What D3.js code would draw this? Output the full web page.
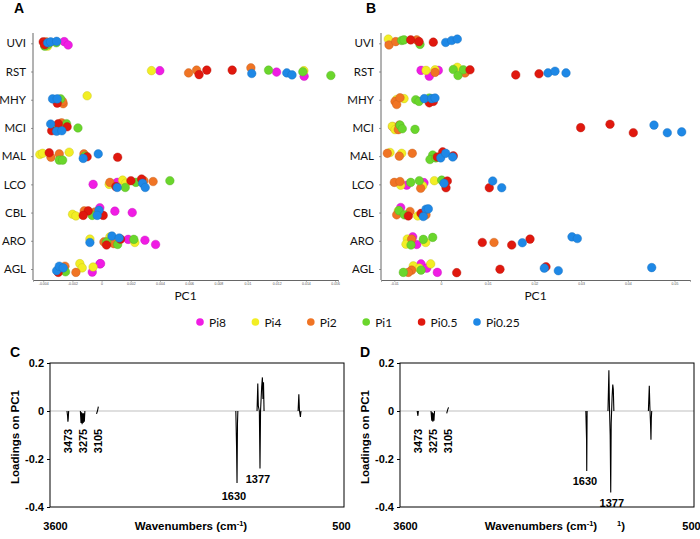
<!DOCTYPE html>
<html><head><meta charset="utf-8">
<script src="https://cdn.jsdelivr.net/npm/d3@7"></script>
<style>body{margin:0;background:#fff} svg{display:block}</style>
</head><body><svg id="c" width="700" height="539"></svg>
<script>
const categories = ["UVI","RST","MHY","MCI","MAL","LCO","CBL","ARO","AGL"];
const seriesNames = ["Pi8","Pi4","Pi2","Pi1","Pi0.5","Pi0.25"];
const seriesColors = ["#f01ce4","#f2ee24","#f07424","#6ad62c","#e0180e","#1e88e6"];
const ticksA = [-0.004,-0.002,0,0.002,0.004,0.006,0.008,0.01,0.012,0.014,0.016];
const ticksB = [-0.01,0,0.01,0.02,0.03,0.04,0.05];
const loadTicks = [0.2,0,-0.2,-0.4];
const waveTicks = [3600,500];

// Panel A: [category, PC1, vertical jitter]
const aPi8 = [["UVI",-0.00256,-0.06],["UVI",-0.00229,0.06],["RST",0.00399,-0.03],["RST",0.01199,0.02],["RST",0.01388,0.17],
  ["LCO",-0.00058,0],["LCO",0.00107,-0.07],["CBL",-0.00012,-0.17],["CBL",0.00091,-0.05],["CBL",0.0021,0],
  ["ARO",0.00182,-0.05],["ARO",0.00297,-0.02],["ARO",0.0037,0.13],["AGL",-0.00064,0.11],["AGL",-0.00012,-0.18],["AGL",-0.00007,-0.19]];
const aPi4 = [["UVI",-0.0037,0.1],["UVI",-0.0039,0.05],["RST",0.00342,-0.03],["RST",0.01386,-0.03],["MHY",-0.00099,-0.14],
  ["MAL",-0.00423,-0.06],["MAL",-0.00404,-0.1],["MAL",-0.00222,-0.14],["LCO",0.00052,0],["LCO",0.00144,-0.15],["LCO",0.00166,-0.04],
  ["CBL",-0.00199,0.06],["CBL",-0.00176,0.12],["ARO",-0.0008,-0.06],["ARO",0.00057,-0.14],["ARO",0.00228,0.06],
  ["AGL",-0.00149,-0.19],["AGL",-0.00133,-0.04],["AGL",-0.00058,-0.07]];
const aPi2 = [["UVI",-0.0038,-0.05],["UVI",-0.0036,0],["RST",0.00596,0.05],["RST",0.00651,-0.05],["RST",0.01023,-0.13],
  ["MHY",-0.00263,0.14],["MHY",-0.00267,0.06],["MCI",-0.00274,-0.18],["MAL",-0.00347,0.04],["MAL",-0.0029,-0.08],["MAL",-0.00121,-0.08],
  ["LCO",0.00057,-0.07],["LCO",0.0029,-0.13],["LCO",0.00353,-0.1],["CBL",-0.00119,-0.06],["CBL",-0.00046,-0.02],
  ["ARO",0.00016,0.04],["ARO",0.00084,0.1],["AGL",-0.00251,-0.1],["AGL",-0.00176,0.12]];
const aPi1 = [["UVI",-0.0039,0.1],["UVI",-0.0031,-0.02],["UVI",-0.0037,0.05],["RST",0.01144,-0.05],["RST",0.01379,0.01],["RST",0.01571,0.14],
  ["MHY",-0.00281,-0.03],["MCI",-0.0024,-0.15],["MCI",-0.00162,0],["MCI",-0.0033,-0.06],["MAL",-0.0029,0.14],["MAL",-0.00267,0.14],["MAL",-0.00114,0],
  ["LCO",0.00162,0.11],["LCO",0.00235,-0.07],["LCO",0.00468,-0.13],["CBL",-0.00064,0.1],
  ["ARO",0.00034,0.04],["ARO",0.0011,0.13],["ARO",0.00221,-0.05],["AGL",-0.00247,0.1]];
const aPi05 = [["UVI",-0.004,-0.05],["UVI",-0.0039,0.05],["RST",0.00668,0.11],["RST",0.00721,-0.05],["RST",0.00895,-0.05],
  ["MHY",-0.00304,0.12],["MCI",-0.00297,-0.15],["MCI",-0.00236,-0.04],["MCI",-0.00342,0.1],
  ["MAL",-0.00359,-0.12],["MAL",-0.00099,0.02],["MAL",0.0011,0.04],["LCO",0.00098,0.08],["LCO",0.00201,-0.13],["LCO",0.00274,-0.19],
  ["CBL",-0.00092,-0.06],["CBL",-0.00126,0.1],["CBL",0.00011,0.1],["ARO",0.00034,0.15],["ARO",0.0013,-0.06],["AGL",-0.00297,0.12]];
const aPi025 = [["UVI",-0.0037,-0.02],["UVI",-0.00349,-0.05],["UVI",-0.00308,-0.07],["RST",0.01029,0.07],["RST",0.01269,0.05],["RST",0.01305,0.12],
  ["MHY",-0.00336,-0.03],["MHY",-0.00304,-0.03],["MCI",-0.00349,-0.14],["MCI",-0.00308,0.12],["MCI",-0.00272,0.1],
  ["MAL",-0.00126,0.08],["MAL",-0.00023,-0.08],["LCO",0.00107,0.11],["LCO",0.00281,-0.04],["LCO",0.00299,0.11],
  ["CBL",-0.00018,-0.08],["CBL",-0.0003,0.1],["ARO",-0.0008,0.06],["ARO",0.00071,-0.17],["ARO",0.00121,-0.1],
  ["AGL",-0.00308,0.06],["AGL",-0.0029,-0.1],["AGL",-0.00263,-0.04]];

// Panel B
const bPi8 = [["UVI",-0.01107,-0.03],["RST",-0.00428,-0.04],["RST",-0.00251,0.17],["RST",-0.00058,-0.04],["MCI",-0.01034,-0.04],
  ["LCO",-0.00734,0.03],["LCO",-0.00364,-0.06],["CBL",-0.00863,-0.18],["ARO",-0.00606,-0.14],["ARO",-0.0052,0.13],
  ["AGL",-0.00428,-0.18],["AGL",-0.00306,-0.03],["AGL",-0.00079,0.12]];
const bPi4 = [["UVI",-0.01128,-0.15],["RST",-0.00321,-0.04],["RST",-0.00128,-0.06],["RST",0.00349,-0.15],["MHY",-0.00792,-0.04],["MHY",-0.00949,-0.01],
  ["MCI",-0.01043,-0.06],["MCI",-0.00985,0.06],["MAL",-0.01092,-0.13],["MAL",-0.00842,-0.1],
  ["LCO",-0.00863,0.03],["LCO",-0.00392,0.05],["LCO",-0.00143,-0.13],["CBL",-0.00914,-0.06],["CBL",-0.00499,0.12],
  ["ARO",-0.00722,-0.06],["ARO",-0.0075,0.12],["ARO",-0.00328,0.06],["AGL",-0.00593,-0.11],["AGL",-0.00221,-0.18],["AGL",-0.00465,-0.03]];
const bPi2 = [["UVI",-0.01113,0.06],["UVI",-0.0097,-0.06],["UVI",-0.0052,-0.12],["RST",-0.00128,0.03],["RST",0.00514,0.05],
  ["MHY",-0.00985,0.06],["MHY",-0.00949,0.17],["MHY",-0.00878,-0.07],["MCI",-0.00893,-0.1],["MCI",-0.00914,0.06],
  ["MAL",-0.0115,-0.1],["MAL",-0.00893,0],["MAL",-0.00615,-0.1],["LCO",-0.01,-0.07],["LCO",-0.00878,-0.1],["LCO",-0.00435,0.14],
  ["CBL",-0.00949,0.08],["CBL",-0.00664,-0.04],["CBL",-0.00321,0.08],["ARO",-0.00628,-0.06],["ARO",0.01135,0.06],
  ["AGL",-0.00628,0.04],["AGL",-0.007,0.12]];
const bPi1 = [["UVI",-0.00842,-0.1],["UVI",-0.00792,-0.12],["UVI",-0.0045,0.04],["RST",0.00263,-0.07],["RST",0.00364,0.14],["RST",0.00478,-0.06],
  ["MHY",-0.00542,0],["MHY",-0.00471,0.06],["MHY",-0.00251,-0.06],["MCI",-0.00878,-0.1],["MCI",-0.00829,0.03],["MCI",-0.00557,0.05],
  ["MAL",-0.00178,-0.04],["MAL",-0.00236,0.12],["MAL",-0.00113,0.06],["LCO",-0.00649,-0.07],["LCO",-0.00465,-0.13],["LCO",0.00015,-0.15],
  ["CBL",-0.00899,-0.07],["CBL",-0.00786,0.08],["ARO",-0.00642,0.15],["ARO",-0.00379,-0.05],["ARO",-0.00178,-0.12],
  ["AGL",-0.00807,0.12],["AGL",-0.00428,0.04]];
const bPi05 = [["UVI",-0.00649,-0.12],["UVI",-0.00471,-0.06],["UVI",-0.00165,-0.04],["RST",0.00621,-0.06],["RST",0.016,0.12],["RST",0.02099,0.08],
  ["MHY",-0.00251,0.11],["MHY",-0.00165,0.06],["MCI",0.02991,-0.01],["MCI",0.03619,-0.13],["MCI",0.04118,0.17],
  ["MAL",-0.00079,0.03],["MAL",0.00036,-0.15],["MAL",0.00263,-0.01],["LCO",0.00135,-0.12],["LCO",0.00107,0.12],["LCO",0.01034,0.12],
  ["CBL",-0.007,0.12],["CBL",-0.00428,0.03],["ARO",0.00884,0.06],["ARO",0.01514,0.15],["ARO",0.01906,-0.06],
  ["AGL",0.00336,0.13],["AGL",0.01263,0.01],["AGL",0.02248,-0.08]];
const bPi025 = [["UVI",0.001,-0.03],["UVI",0.00229,-0.1],["UVI",0.00349,-0.15],["RST",0.02291,0.05],["RST",0.02441,-0.01],["RST",0.02677,0.05],
  ["MHY",-0.00358,-0.04],["MHY",-0.00199,-0.04],["MHY",-0.00128,-0.06],["MCI",0.04561,-0.1],["MCI",0.04846,0.17],["MCI",0.05154,0.14],
  ["MAL",-0.00006,0.06],["MAL",0.00101,-0.1],["MAL",0.00251,0.03],["LCO",0.00064,-0.04],["LCO",0.01107,-0.12],["LCO",0.013,0.12],
  ["CBL",-0.00321,-0.12],["CBL",-0.00272,-0.13],["CBL",-0.00379,0.14],["ARO",0.01741,0.07],["ARO",0.02805,-0.14],["ARO",0.02919,-0.08],
  ["AGL",0.02212,-0.03],["AGL",0.02512,0.06],["AGL",0.04512,-0.05]];

// Loadings on PC1 spectra: [wavenumber, loading] (null = gap)
const cSpectrum = [[3470,0],[3464,-0.02],[3460,-0.045],[3456,-0.03],[3452,0],[3451,null],
  [3325,0],[3318,-0.05],[3312,-0.005],[3306,-0.055],[3300,-0.01],[3294,-0.05],[3288,-0.01],[3282,-0.045],[3276,0],[3275,null],
  [3150,-0.012],[3140,0.0],[3130,0.018],[3129,null],
  [1640,0],[1632,-0.15],[1627,-0.30],[1622,-0.05],[1618,0],[1617,null],
  [1410,0],[1402,0.115],[1396,0.02],[1385,0.0],[1378,-0.24],[1372,0.0],[1360,0.1],[1352,0.14],[1346,0.05],[1340,0.12],[1334,0],[1333,null],
  [965,0],[957,0.07],[950,0.0],[940,-0.025],[934,0]];
const dSpectrum = [[3468,0],[3460,-0.02],[3455,0],[3454,null],
  [3318,0],[3310,-0.04],[3304,-0.005],[3298,-0.045],[3292,-0.01],[3286,-0.04],[3280,0],[3279,null],
  [3148,-0.01],[3138,0.005],[3128,0.015],[3127,null],
  [1640,0],[1632,-0.12],[1630,-0.25],[1626,0],[1625,null],
  [1400,0],[1390,0.17],[1384,0.02],[1376,-0.1],[1370,-0.34],[1365,-0.05],[1355,0.06],[1348,0.11],[1342,0.09],[1336,0],[1335,null],
  [962,0],[952,0.105],[946,0.02],[938,-0.06],[934,-0.12],[930,-0.03],[926,0]];
// peak annotations: [text, wavenumber, loading at label, rotated]
const cPeakLabels = [["3473",3459,-0.125,true],["3275",3297,-0.125,true],["3105",3134,-0.125,true],["1630",1660,-0.37,false],["1377",1400,-0.30,false]];
const dPeakLabels = [["3473",3459,-0.125,true],["3275",3297,-0.125,true],["3105",3134,-0.125,true],["1630",1650,-0.31,false],["1377",1358,-0.40,false]];

const svg = d3.select("#c");
const catFont = "Lato, 'Open Sans', sans-serif";
const armFont = "'Liberation Sans', Arial, sans-serif";

function scatterPanel(letter, letterX, xDomain, xRange, ticks, seriesData) {
  const g = svg.append("g");
  const x = d3.scaleLinear().domain(xDomain).range(xRange);
  const y = d3.scalePoint().domain(categories).range([43.3, 269]);
  const step = y.step();
  const yBottom = 280, yTop = 33;
  g.append("text").attr("x", letterX).attr("y", 13).text(letter)
    .attr("font-family", armFont).attr("font-weight", "bold").attr("font-size", 14);
  const ya = g.append("g").attr("transform", `translate(${xRange[0]},0)`)
    .call(d3.axisLeft(y).tickSize(2).tickPadding(5));
  ya.select(".domain").remove();
  g.append("line").attr("x1", xRange[0]).attr("x2", xRange[0]).attr("y1", yTop).attr("y2", yBottom)
    .attr("stroke", "#666").attr("stroke-width", 1);
  ya.selectAll(".tick line").attr("stroke", "#999");
  ya.selectAll("text").attr("font-family", catFont).attr("font-size", 11.5).attr("fill", "#111");
  const xa = g.append("g").attr("transform", `translate(0,${yBottom})`)
    .call(d3.axisBottom(x).tickValues(ticks).tickFormat(d => String(d)).tickSize(1.5).tickPadding(1));
  xa.select(".domain").attr("stroke", "#666");
  xa.selectAll(".tick line").attr("stroke", "#666");
  xa.selectAll("text").attr("font-family", armFont).attr("font-size", 3.5).attr("fill", "#555");
  g.append("text").attr("x", (xRange[0] + xRange[1]) / 2).attr("y", 300).attr("text-anchor", "middle")
    .attr("font-family", catFont).attr("font-size", 12).attr("fill", "#111").text("PC1");
  seriesData.forEach((arr, i) => {
    g.append("g").selectAll("circle").data(arr).join("circle")
      .attr("cx", d => x(d[1]))
      .attr("cy", d => y(d[0]) + d[2] * step)
      .attr("r", 4.3)
      .attr("fill", seriesColors[i])
      .attr("stroke", d3.color(seriesColors[i]).darker(0.6))
      .attr("stroke-width", 0.4);
  });
}

scatterPanel("A", 14, [-0.0047, 0.0162], [33, 338], ticksA, [aPi8, aPi4, aPi2, aPi1, aPi05, aPi025]);
scatterPanel("B", 366, [-0.01285, 0.05332], [381, 690], ticksB, [bPi8, bPi4, bPi2, bPi1, bPi05, bPi025]);

const leg = svg.append("g");
seriesNames.forEach((name, i) => {
  const lx = 200 + i * 55.4;
  leg.append("circle").attr("cx", lx).attr("cy", 322).attr("r", 3.8).attr("fill", seriesColors[i]);
  leg.append("text").attr("x", lx + 9).attr("y", 326.5).text(name)
    .attr("font-family", catFont).attr("font-size", 12).attr("fill", "#111");
});

function loadingPanel(ox, letter, spectrum, labels) {
  const g = svg.append("g").attr("transform", `translate(${ox},0)`);
  const left = 50, right = 344, top = 363, bottom = 507;
  const x = d3.scaleLinear().domain([3600, 500]).range([55, 341]);
  const y = d3.scaleLinear().domain([-0.4, 0.2]).range([bottom, top]);
  g.append("text").attr("x", 10).attr("y", 357).text(letter)
    .attr("font-family", armFont).attr("font-weight", "bold").attr("font-size", 14);
  g.append("line").attr("x1", left).attr("x2", right).attr("y1", y(0)).attr("y2", y(0))
    .attr("stroke", "#d4d4d4").attr("stroke-width", 1.5);
  g.append("rect").attr("x", left).attr("y", top).attr("width", right - left).attr("height", bottom - top)
    .attr("fill", "none").attr("stroke", "#000").attr("stroke-width", 1);
  const ya = g.append("g").attr("transform", `translate(${left},0)`)
    .call(d3.axisLeft(y).tickValues(loadTicks).tickFormat(d => String(d)).tickSize(3).tickPadding(3));
  ya.select(".domain").remove();
  ya.selectAll("text").attr("font-family", armFont).attr("font-weight", "bold").attr("font-size", 11).attr("fill", "#000");
  const xa = g.append("g").attr("transform", `translate(0,${bottom})`)
    .call(d3.axisBottom(x).tickValues(waveTicks).tickFormat(d => String(d)).tickSize(0).tickPadding(15));
  xa.select(".domain").remove();
  xa.selectAll("text").attr("font-family", armFont).attr("font-weight", "bold").attr("font-size", 11).attr("fill", "#000");
  g.append("text").attr("transform", `translate(19,${(top + bottom) / 2 + 2}) rotate(-90)`)
    .attr("text-anchor", "middle").attr("font-family", armFont).attr("font-weight", "bold").attr("font-size", 11.5)
    .text("Loadings on PC1");
  const xl = g.append("text").attr("x", 191).attr("y", 530).attr("text-anchor", "middle")
    .attr("font-family", armFont).attr("font-weight", "bold").attr("font-size", 11.5);
  xl.append("tspan").text("Wavenumbers (cm");
  xl.append("tspan").attr("dy", -4).attr("font-size", 7.5).text("-1");
  xl.append("tspan").attr("dy", 4).text(")");
  const line = d3.line().defined(d => d[1] !== null).x(d => x(d[0])).y(d => y(d[1]));
  g.append("path").attr("d", line(spectrum)).attr("fill", "none").attr("stroke", "#000").attr("stroke-width", 1.1);
  labels.forEach(l => {
    const t = g.append("text").attr("font-family", armFont).attr("font-weight", "bold").attr("font-size", 11)
      .attr("text-anchor", "middle").text(l[0]);
    if (l[3]) t.attr("transform", `translate(${x(l[1])},${y(l[2])}) rotate(-90)`).attr("dy", "0.35em");
    else t.attr("x", x(l[1])).attr("y", y(l[2]));
  });
  return g;
}

loadingPanel(0, "C", cSpectrum, cPeakLabels);
const gD = loadingPanel(350, "D", dSpectrum, dPeakLabels);
const stray = gD.append("text").attr("x", 267).attr("y", 530)
  .attr("font-family", armFont).attr("font-weight", "bold").attr("font-size", 11.5);
stray.append("tspan").attr("dy", -4).attr("font-size", 7.5).text("1");
stray.append("tspan").attr("dy", 4).text(")");
</script></body></html>
